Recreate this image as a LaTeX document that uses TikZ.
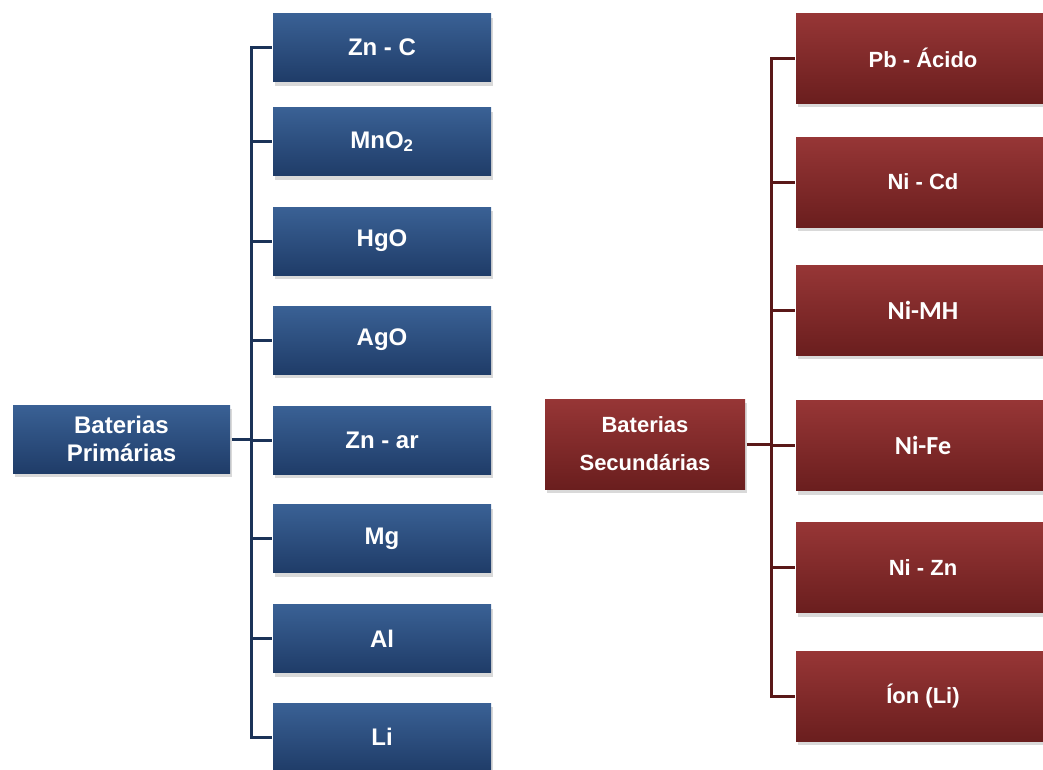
\documentclass[tikz,border=0pt]{standalone}
\usepackage{fontspec}
\setmainfont{Liberation Sans}
\newfontfamily\calibri{Carlito}
\usetikzlibrary{shadows}

\definecolor{bluetop}{HTML}{3A6195}
\definecolor{bluebot}{HTML}{1F3C68}
\definecolor{blueline}{HTML}{1B3358}
\definecolor{redtop}{HTML}{973636}
\definecolor{redbot}{HTML}{6A1E1E}
\definecolor{redline}{HTML}{5A1818}

\begin{document}
\begin{tikzpicture}[x=1pt,y=-1pt,line width=3pt,
  box/.style={rectangle,inner sep=0pt,text=white,align=center,drop shadow={shadow xshift=1.5pt,shadow yshift=-4pt,opacity=0.3}},
  prim node/.style={box,top color=bluetop,bottom color=bluebot,minimum width=218pt,minimum height=68pt,font=\fontsize{24}{28}\selectfont\bfseries},
  sec node/.style={box,top color=redtop,bottom color=redbot,minimum width=254pt,minimum height=90pt,font=\fontsize{22}{38}\selectfont\bfseries},
  cal/.style={font=\calibri\fontsize{26}{30}\selectfont\bfseries}]
  \useasboundingbox (0,0) rectangle (1043,769);

  % primarias
  \node[prim node,minimum width=217pt] (p0) at (121.5,439) {Baterias\\Primárias};
  \node[prim node] (p1) at (382,47.5) {Zn - C};
  \node[prim node] (p2) at (382,141.5) {MnO\textsubscript{2}};
  \node[prim node] (p3) at (382,241) {HgO};
  \node[prim node] (p4) at (382,340) {AgO};
  \node[prim node] (p5) at (382,440) {Zn - ar};
  \node[prim node] (p6) at (382,538.5) {Mg};
  \node[prim node] (p7) at (382,638.5) {Al};
  \node[prim node] (p8) at (382,737) {Li};
  \coordinate (pt) at (251,439);

  % secundarias
  \node[sec node,minimum width=200pt] (s0) at (645,444) {Baterias\\Secundárias};
  \node[sec node] (s1) at (923,58) {Pb - Ácido};
  \node[sec node] (s2) at (923,182) {Ni - Cd};
  \node[sec node,cal] (s3) at (923,310) {Ni-MH};
  \node[sec node,cal] (s4) at (923,445.5) {Ni-Fe};
  \node[sec node] (s5) at (923,567.5) {Ni - Zn};
  \node[sec node] (s6) at (923,696) {Íon (Li)};
  \coordinate (st) at (771,444);

\draw[blueline] (p1.west) -- (p1 -| pt) -- (p8 -| pt) -- (p8.west);
\path[draw=blueline]
  (p0) edge (pt)
  (p2) edge (p2 -| pt)
  (p3) edge (p3 -| pt)
  (p4) edge (p4 -| pt)
  (p5) edge (p5 -| pt)
  (p6) edge (p6 -| pt)
  (p7) edge (p7 -| pt)
;
\draw[redline] (s1.west) -- (s1 -| st) -- (s6 -| st) -- (s6.west);
\path[draw=redline]
  (s0) edge (st)
  (s2) edge (s2 -| st)
  (s3) edge (s3 -| st)
  (s4) edge (s4 -| st)
  (s5) edge (s5 -| st)
;
\end{tikzpicture}
\end{document}
